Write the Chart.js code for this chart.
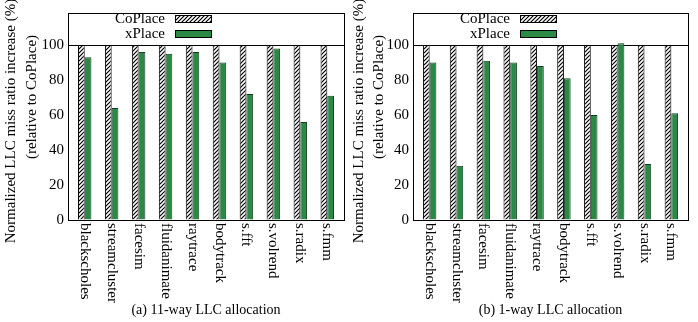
<!DOCTYPE html>
<html>
<head>
<meta charset="utf-8">
<script src="https://cdn.jsdelivr.net/npm/chart.js@4.4.0/dist/chart.umd.min.js"></script>
<style>
  body { margin: 0; background: #fff; }
  #wrap { position: relative; width: 698px; height: 322px; }
  canvas { position: absolute; top: 0; }
</style>
</head>
<body>
<div id="wrap">
  <canvas id="chartA" width="349" height="322" style="left:0"></canvas>
  <canvas id="chartB" width="349" height="322" style="left:349px"></canvas>
</div>
<script>
// données
var categories = ['blackscholes', 'streamcluster', 'facesim', 'fluidanimate', 'raytrace',
                  'bodytrack', 's.fft', 's.volrend', 's.radix', 's.fmm'];
var coplace11 = [100, 100, 100, 100, 100, 100, 100, 100, 100, 100];
var xplace11  = [93, 64, 96, 95, 96, 90, 72, 98, 56, 71];
var coplace1  = [100, 100, 100, 100, 100, 100, 100, 100, 100, 100];
var xplace1   = [90, 31, 91, 90, 88, 81, 60, 101, 32, 61];
var yTicks = [0, 20, 40, 60, 80, 100];
var seriesNames = ['CoPlace', 'xPlace'];

var FONT = '"Liberation Serif", "DejaVu Serif", serif';
var GREEN = '#2a8a45';

// motif hachuré pour CoPlace
function makeHatch() {
    var c = document.createElement('canvas');
    c.width = 4; c.height = 4;
    var g = c.getContext('2d');
    g.fillStyle = '#fff';
    g.fillRect(0, 0, 4, 4);
    g.strokeStyle = '#000';
    g.lineWidth = 1.2;
    g.beginPath();
    g.moveTo(0, 4); g.lineTo(4, 0);
    g.moveTo(-1, 1); g.lineTo(1, -1);
    g.moveTo(3, 5); g.lineTo(5, 3);
    g.stroke();
    return g.createPattern(c, 'repeat');
}

function points(arr) {
    return arr.map(function(v, i) { return { x: i, y: v }; });
}

// dessine le cadre, la légende, les libellés verticaux, le titre de l'axe et la légende du bas
var decoPlugin = {
    id: 'deco',
    afterDraw: function(chart, args, opts) {
        var ctx = chart.ctx;
        var area = chart.chartArea;
        var xs = chart.scales.x;
        ctx.save();
        ctx.fillStyle = '#000';
        ctx.strokeStyle = '#000';
        ctx.lineWidth = 1;
        ctx.strokeRect(Math.round(area.left) + 0.5, Math.round(area.top) + 0.5,
                       Math.round(area.right - area.left), Math.round(area.bottom - area.top));

        // libellés des catégories (rotation horaire)
        ctx.font = '15px ' + FONT;
        ctx.textAlign = 'left';
        ctx.textBaseline = 'middle';
        categories.forEach(function(name, i) {
            ctx.save();
            ctx.translate(xs.getPixelForValue(i), area.bottom + 3);
            ctx.rotate(Math.PI / 2);
            ctx.fillText(name, 0, 0);
            ctx.restore();
        });

        // légende
        ctx.font = '15px ' + FONT;
        ctx.textAlign = 'right';
        ctx.textBaseline = 'middle';
        chart.data.datasets.forEach(function(ds, k) {
            var y = area.top + 6 + k * 15;
            ctx.fillText(seriesNames[k], area.left + 97, y);
            ctx.fillStyle = ds.backgroundColor;
            ctx.fillRect(area.left + 107, y - 4, 36, 8);
            ctx.strokeStyle = '#000';
            ctx.strokeRect(area.left + 107.5, y - 3.5, 36, 7);
            ctx.fillStyle = '#000';
        });

        // titre de l'axe Y
        ctx.font = '15px ' + FONT;
        ctx.textAlign = 'center';
        ctx.textBaseline = 'middle';
        ctx.save();
        ctx.translate(opts.titleX1, 121);
        ctx.rotate(-Math.PI / 2);
        ctx.fillText('Normalized LLC miss ratio increase (%)', 0, 0);
        ctx.restore();
        ctx.save();
        ctx.translate(opts.titleX2, 97);
        ctx.rotate(-Math.PI / 2);
        ctx.fillText('(relative to CoPlace)', 0, 0);
        ctx.restore();

        // légende du bas
        ctx.font = '14px ' + FONT;
        ctx.fillText(opts.caption, (area.left + area.right) / 2, 310);
        ctx.restore();
    }
};

function makeChart(id, coplace, xplace, caption, left, right, t1, t2) {
    var canvas = document.getElementById(id);
    return new Chart(canvas.getContext('2d'), {
        type: 'bar',
        data: {
            datasets: [{
                label: seriesNames[0],
                data: points(coplace),
                backgroundColor: makeHatch(),
                borderColor: '#000',
                borderWidth: 1
            }, {
                label: seriesNames[1],
                data: points(xplace),
                backgroundColor: GREEN,
                borderColor: '#163d22',
                borderWidth: 1
            }]
        },
        options: {
            responsive: false,
            animation: false,
            devicePixelRatio: 1,
            categoryPercentage: 0.5,
            barPercentage: 1.0,
            layout: { padding: { top: 12, right: 349 - right, left: 0, bottom: 0 } },
            plugins: {
                legend: { display: false },
                tooltip: { enabled: false },
                deco: { caption: caption, titleX1: t1, titleX2: t2 }
            },
            scales: {
                x: {
                    type: 'linear',
                    offset: false,
                    min: -0.62,
                    max: 9.62,
                    afterBuildTicks: function(scale) {
                        scale.ticks = categories.map(function(c, i) { return { value: i }; });
                    },
                    grid: { display: false, offset: false },
                    border: { display: false },
                    ticks: { display: false },
                    afterFit: function(scale) { scale.height = 102; }
                },
                y: {
                    min: 0,
                    max: 118.3,
                    afterBuildTicks: function(scale) {
                        scale.ticks = yTicks.map(function(v) { return { value: v }; });
                    },
                    afterFit: function(scale) { scale.width = left; },
                    border: { display: false },
                    grid: {
                        drawTicks: false,
                        color: function(c) { return c.tick && c.tick.value === 100 ? '#000' : 'rgba(0,0,0,0)'; }
                    },
                    ticks: {
                        padding: 4,
                        color: '#000',
                        font: { family: FONT, size: 15 }
                    }
                }
            }
        },
        plugins: [decoPlugin]
    });
}

makeChart('chartA', coplace11, xplace11, '(a) 11-way LLC allocation', 68, 344, 11, 32);
makeChart('chartB', coplace1, xplace1, '(b) 1-way LLC allocation', 64, 339, 10, 30);
</script>
</body>
</html>
